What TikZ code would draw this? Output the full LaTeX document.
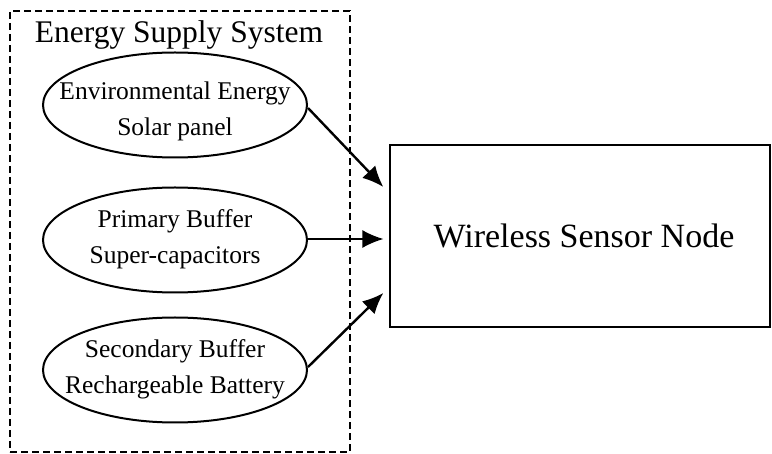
\documentclass[tikz,border=0pt]{standalone}
\usepackage{fontspec}
\setmainfont{Liberation Serif}
\usetikzlibrary{shapes.geometric,arrows.meta,calc}
\begin{document}
\begin{tikzpicture}[x=1pt,y=-1pt,
  group/.style={draw,dashed,dash pattern=on 7pt off 4pt,line width=1.2pt},
  src/.style={draw,ellipse,line width=2pt,minimum width=264pt,minimum height=105pt,inner sep=0pt},
  srctext/.style={align=center,font=\fontsize{25.5}{36}\selectfont,inner sep=0pt},
  sink/.style={draw,rectangle,line width=1.3pt,minimum width=380pt,minimum height=182pt,font=\fontsize{34}{36}\selectfont},
  flow/.style={-{Latex[length=21pt,width=18pt]},line width=2.4pt},
  thinflow/.style={-{Latex[length=21pt,width=18pt]},line width=1.4pt}]
\useasboundingbox (0,0) rectangle (772,454);
\node[group,minimum width=340pt,minimum height=441pt,inner sep=0pt] (sys) at (180,231.5) {};
\node[anchor=base,font=\fontsize{31.5}{36}\selectfont,inner sep=0pt] (title) at (179,43) {Energy Supply System};
\node[src] (e1) at (175,105) {};
\node[srctext] (t1) at (175,111) {Environmental Energy\\Solar panel};
\node[src] (e2) at (175,240) {};
\node[srctext] (t2) at (175,239) {Primary Buffer\\Super-capacitors};
\node[src] (e3) at (175,370) {};
\node[srctext] (t3) at (175,369) {Secondary Buffer\\Rechargeable Battery};
\node[sink] (wsn) at (580,236) {\hspace*{8pt}Wireless Sensor Node};
\coordinate (in1) at ([yshift=49pt,xshift=-6pt]wsn.west);
\coordinate (in2) at ([yshift=-3pt,xshift=-6pt]wsn.west);
\coordinate (in3) at ([yshift=-57pt,xshift=-6pt]wsn.west);
\draw[flow] ([yshift=-3pt]e1.east) -- (in1);
\draw[thinflow] ([yshift=1pt]e2.east) -- (in2);
\draw[flow] ([yshift=3pt]e3.east) -- (in3);
\end{tikzpicture}
\end{document}
